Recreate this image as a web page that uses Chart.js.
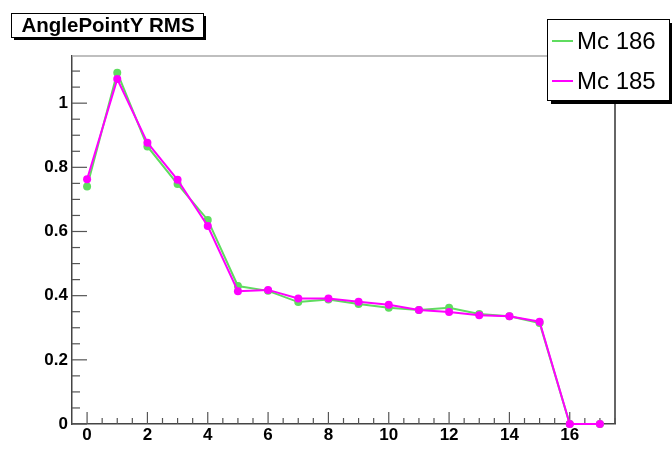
<!DOCTYPE html>
<html>
<head>
<meta charset="utf-8">
<script src="https://cdn.jsdelivr.net/npm/chart.js@4"></script>
<style>
html,body{margin:0;padding:0;background:#fff;}
#wrap{width:672px;height:464px;position:relative;}
</style>
</head>
<body>
<div id="wrap"><canvas id="c" width="672" height="464"></canvas></div>
<script>
const titleText = "AnglePointY RMS";
const xValues = [0,1,2,3,4,5,6,7,8,9,10,11,12,13,14,15,16,17];
const mc186 = [0.740,1.095,0.865,0.748,0.636,0.430,0.415,0.380,0.388,0.374,0.362,0.355,0.362,0.343,0.336,0.315,0,0];
const mc185 = [0.763,1.075,0.877,0.761,0.617,0.414,0.418,0.391,0.391,0.381,0.372,0.355,0.349,0.339,0.336,0.319,0,0];
const seriesLabels = ["Mc 186","Mc 185"];
const seriesColors = ["#5fdc5f","#ff00ff"];
const yMajorTicks = [0,0.2,0.4,0.6,0.8,1.0];
const xMajorTicks = [0,2,4,6,8,10,12,14,16];

const FONT = "'Liberation Sans', Arial, Helvetica, sans-serif";

function pts(vals){ return xValues.map((x,i)=>({x:x,y:vals[i]})); }

const framePlugin = {
  id:'frame',
  beforeDatasetsDraw(chart){
    const ctx = chart.ctx, a = chart.chartArea;
    const xs = chart.scales.x, ys = chart.scales.y;
    ctx.save();
    ctx.strokeStyle = '#aaaaaa'; ctx.lineWidth = 1.5;
    ctx.beginPath(); ctx.moveTo(a.left, a.top); ctx.lineTo(a.right, a.top); ctx.stroke();
    ctx.strokeStyle = '#333333'; ctx.lineWidth = 1.5;
    ctx.beginPath(); ctx.moveTo(a.right, a.top); ctx.lineTo(a.right, a.bottom); ctx.stroke();
    ctx.strokeStyle = '#555555'; ctx.lineWidth = 1.2;
    for (let v = 0; v <= ys.max + 1e-9; v += 0.05) {
      const y = ys.getPixelForValue(v);
      const major = Math.abs(v/0.2 - Math.round(v/0.2)) < 1e-6;
      ctx.beginPath(); ctx.moveTo(a.left, y); ctx.lineTo(a.left + (major ? 15 : 8), y); ctx.stroke();
    }
    for (let v = 0; v <= xs.max + 1e-9; v += 0.5) {
      const x = xs.getPixelForValue(v);
      const major = Math.abs(v/2 - Math.round(v/2)) < 1e-6;
      ctx.beginPath(); ctx.moveTo(x, a.bottom); ctx.lineTo(x, a.bottom - (major ? 12 : 6)); ctx.stroke();
    }
    ctx.restore();
  },
  afterDraw(chart){
    const ctx = chart.ctx;
    ctx.save();
    const tb = {x:11, y:13, w:192, h:24};
    ctx.fillStyle = '#000'; ctx.fillRect(tb.x+3, tb.y+3, tb.w, tb.h);
    ctx.fillStyle = '#fff'; ctx.fillRect(tb.x, tb.y, tb.w, tb.h);
    ctx.strokeStyle = '#000'; ctx.lineWidth = 1; ctx.strokeRect(tb.x+0.5, tb.y+0.5, tb.w, tb.h);
    ctx.fillStyle = '#000'; ctx.font = "bold 20.5px " + FONT;
    ctx.textAlign = 'center'; ctx.textBaseline = 'middle';
    ctx.fillText(titleText, tb.x + tb.w/2 + 1, tb.y + tb.h/2 + 1);
    const lb = {x:547, y:19, w:122, h:81};
    ctx.fillStyle = '#000'; ctx.fillRect(lb.x+4, lb.y+4, lb.w, lb.h);
    ctx.fillStyle = '#fff'; ctx.fillRect(lb.x, lb.y, lb.w, lb.h);
    ctx.strokeStyle = '#000'; ctx.lineWidth = 1; ctx.strokeRect(lb.x+0.5, lb.y+0.5, lb.w, lb.h);
    ctx.font = "24px " + FONT; ctx.textAlign = 'left'; ctx.textBaseline = 'middle';
    const rows = [41, 81];
    chart.data.datasets.forEach((ds, i) => {
      const yy = rows[i];
      ctx.strokeStyle = ds.borderColor; ctx.lineWidth = 2;
      ctx.beginPath(); ctx.moveTo(552, yy); ctx.lineTo(573, yy); ctx.stroke();
      ctx.fillStyle = '#000'; ctx.fillText(ds.label, 577, yy + 1);
    });
    ctx.restore();
  }
};

new Chart(document.getElementById('c'), {
  type: 'line',
  data: {
    datasets: [
      {label: seriesLabels[0], data: pts(mc186), borderColor: seriesColors[0], backgroundColor: seriesColors[0],
       borderWidth: 2, pointRadius: 4, pointBorderWidth: 0, tension: 0, order: 2, clip: false},
      {label: seriesLabels[1], data: pts(mc185), borderColor: seriesColors[1], backgroundColor: seriesColors[1],
       borderWidth: 2, pointRadius: 4, pointBorderWidth: 0, tension: 0, order: 1, clip: false}
    ]
  },
  options: {
    responsive: false,
    animation: false,
    devicePixelRatio: 1,
    layout: {padding: {top: 56, right: 57, left: 0, bottom: 0}},
    plugins: {legend: {display: false}, title: {display: false}, tooltip: {enabled: false}},
    scales: {
      x: {
        type: 'linear', min: -0.5, max: 17.5,
        grid: {display: false, tickLength: 0},
        border: {display: true, color: '#444', width: 1.5},
        afterFit(s){ s.height = 40; },
        afterBuildTicks(s){ s.ticks = xMajorTicks.map(v => ({value: v})); },
        ticks: {color: '#000', font: {family: FONT, size: 17, weight: 'bold'}, padding: 1, maxRotation: 0, autoSkip: false}
      },
      y: {
        type: 'linear', min: 0, max: 1.147,
        grid: {display: false, tickLength: 0},
        border: {display: true, color: '#444', width: 1.5},
        afterFit(s){ s.width = 72; },
        afterBuildTicks(s){ s.ticks = yMajorTicks.map(v => ({value: v})); },
        ticks: {color: '#000', font: {family: FONT, size: 17, weight: 'bold'}, padding: 4,
                callback: v => (Math.round(v*10)/10).toString()}
      }
    }
  },
  plugins: [framePlugin]
});
</script>
</body>
</html>
